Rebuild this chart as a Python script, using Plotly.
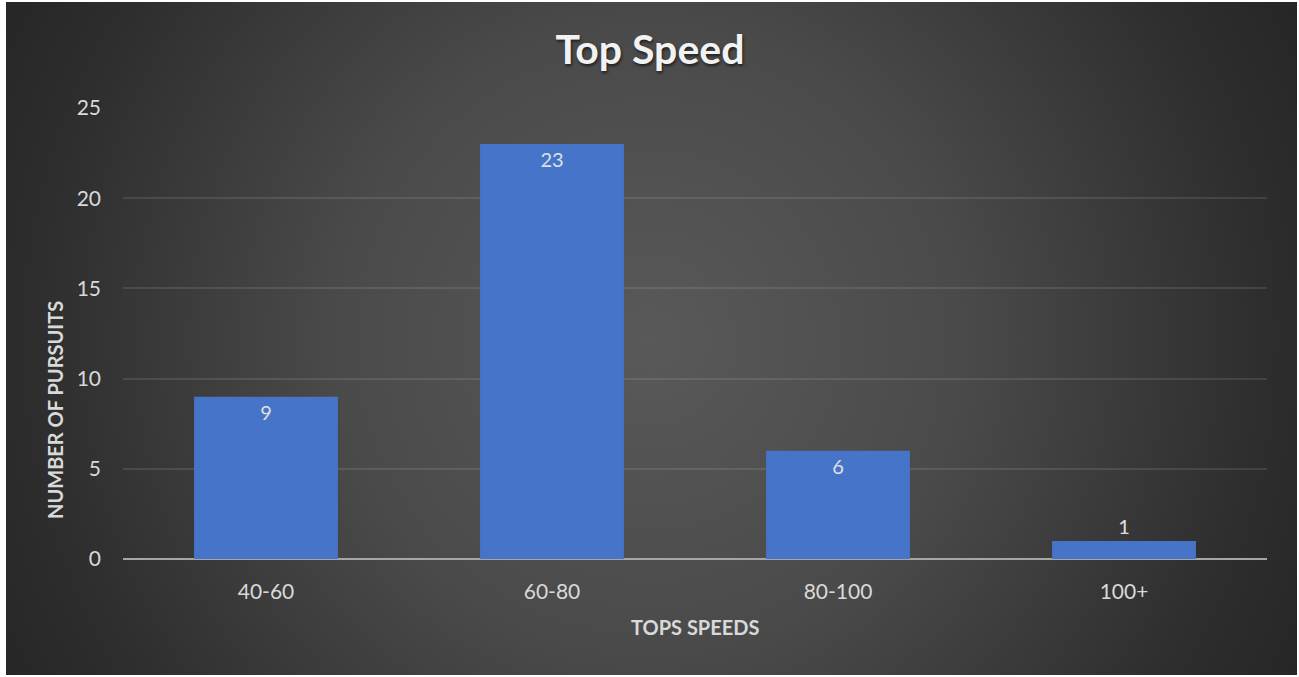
import base64
import plotly.graph_objects as go

# Data
categories = ["40-60", "60-80", "80-100", "100+"]
pursuits = [9, 23, 6, 1]
y_ticks = [0, 5, 10, 15, 20, 25]

title_text = "Top Speed"
x_title = "TOPS SPEEDS"
y_title = "NUMBER OF PURSUITS"

FONT = "Lato, 'Open Sans', sans-serif"
W, H = 1299, 677
L, R, T, B = 123, 32, 108, 118
PW, PH = W - L - R, H - T - B

# radial-gradient background (dark rectangle from (6,2) to (1297,675))
rx0, ry0, rx1, ry1 = 6, 2, 1297, 675
rw, rh = rx1 - rx0, ry1 - ry0
svg = f"""<svg xmlns='http://www.w3.org/2000/svg' width='{rw}' height='{rh}' viewBox='0 0 {rw} {rh}' preserveAspectRatio='none'>
<defs><radialGradient id='g' gradientUnits='userSpaceOnUse' cx='{650-rx0}' cy='{340-ry0}' r='745'>
<stop offset='0' stop-color='#595959'/>
<stop offset='0.42' stop-color='#4a4a4a'/>
<stop offset='0.82' stop-color='#2e2e2e'/>
<stop offset='1' stop-color='#252525'/>
</radialGradient></defs>
<rect x='0' y='0' width='{rw}' height='{rh}' fill='url(#g)'/></svg>"""
bg_uri = "data:image/svg+xml;base64," + base64.b64encode(svg.encode()).decode()

# small bars get their label outside (above), as in the reference
label_pos = ["inside" if v >= 3 else "outside" for v in pursuits]

fig = go.Figure()
fig.add_trace(go.Bar(
    x=categories, y=pursuits,
    marker=dict(color="#4674c8", line=dict(width=0)),
    text=[str(v) for v in pursuits],
    textposition=label_pos,
    textangle=0,
    insidetextanchor="end",
    textfont=dict(family=FONT, size=20, color="#e0e0e0"),
    insidetextfont=dict(family=FONT, size=20, color="#e0e0e0"),
    outsidetextfont=dict(family=FONT, size=20, color="#e0e0e0"),
    cliponaxis=False,
    hoverinfo="skip",
))

fig.update_layout(
    width=W, height=H,
    margin=dict(l=L, r=R, t=T, b=B),
    paper_bgcolor="white",
    plot_bgcolor="rgba(0,0,0,0)",
    bargap=0.497,
    showlegend=False,
    title=dict(
        text=f"<b>{title_text}</b>",
        x=650 / W, xanchor="center",
        y=1 - 50 / H, yanchor="middle",
        font=dict(family=FONT, size=41, color="#f2f2f2",
                  shadow="1px 2px 3px rgba(0,0,0,0.6)"),
    ),
    images=[dict(
        source=bg_uri, xref="paper", yref="paper",
        x=(rx0 - L) / PW, y=(H - B - ry0) / PH,
        sizex=rw / PW, sizey=rh / PH,
        xanchor="left", yanchor="top",
        sizing="stretch", layer="below",
    )],
    xaxis=dict(
        showgrid=False, showline=False, zeroline=False, ticks="",
        tickfont=dict(family=FONT, size=21, color="#d9d9d9"),
        ticklabelstandoff=18,
    ),
    yaxis=dict(
        range=[0, 25], tickvals=y_ticks, ticks="",
        showgrid=True, gridcolor="rgba(255,255,255,0.10)", gridwidth=2,
        zeroline=True, zerolinecolor="#a6a6a6", zerolinewidth=2,
        showline=False,
        tickfont=dict(family=FONT, size=21, color="#d9d9d9"),
        ticklabelstandoff=21,
    ),
    annotations=[
        dict(text=f"<b>{y_title}</b>", textangle=-90,
             xref="paper", yref="paper",
             x=(55 - L) / PW, y=(H - B - 410) / PH,
             xanchor="center", yanchor="middle", showarrow=False,
             font=dict(family=FONT, size=20, color="#d9d9d9")),
        dict(text=f"<b>{x_title}</b>",
             xref="paper", yref="paper",
             x=(695 - L) / PW, y=(H - B - 627) / PH,
             xanchor="center", yanchor="middle", showarrow=False,
             font=dict(family=FONT, size=20, color="#d9d9d9")),
    ],
)

fig.write_html("out.html", config={"displayModeBar": False},
               post_script="document.body.style.margin='0';")
